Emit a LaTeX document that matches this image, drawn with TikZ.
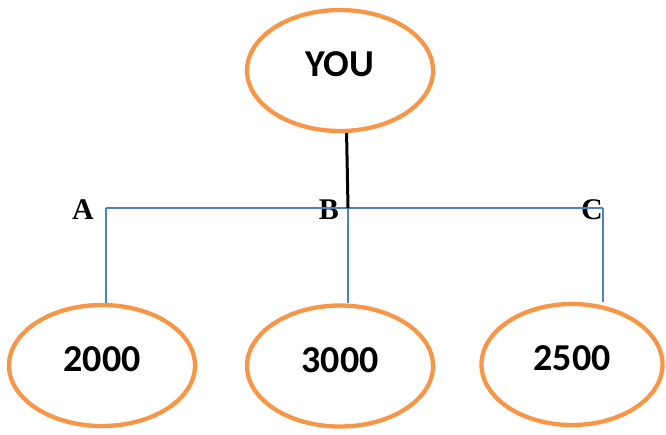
\documentclass[tikz,border=0pt]{standalone}
\usepackage{fontspec}
\setmainfont{Liberation Serif}
\newfontfamily\bubblefont{Carlito}
\usepackage{tikz}
\usetikzlibrary{shapes}
\definecolor{bubbleorange}{HTML}{F79646}
\definecolor{linkblue}{HTML}{4F81BD}

\begin{document}
\begin{tikzpicture}[x=1pt, y=-1pt,
				   every node/.style={inner sep=0pt},
				   bubble/.style={ellipse, draw=bubbleorange, line width=4.3pt, minimum width=186pt, minimum height=121pt,
				                  text height=25pt, text depth=13pt, font=\bubblefont\bfseries\fontsize{38}{38}\selectfont},
				   letter/.style={font=\bfseries\fontsize{30}{30}\selectfont},
				   link/.style={draw=linkblue, line width=1.7pt}]
\useasboundingbox (0,0) rectangle (666,434);
\node[bubble] (you) at (340,70.5) {YOU};
\node[bubble] (n2000) at (102,365.5) {2000};
\node[bubble] (n3000) at (340,366) {3000};
\node[bubble, minimum width=181pt] (n2500) at (572,364.5) {2500};
\coordinate (a) at (106,208);
\coordinate (b) at (348,208);
\coordinate (c) at (603,208);
\node[letter] (la) at (83,210) {A};
\node[letter] (lb) at (329,210) {B};
\node[letter] (lc) at (592,210) {C};
\draw[link] (a) -- (c);
\draw[link] (a) -- (a |- n2000.north);
\draw[link] (b) -- (b |- n3000.north);
\draw[link] (c) -- (c |- n2500.north);
\draw[line width=3pt] (you.276) -- (b);
\end{tikzpicture}
\end{document}
